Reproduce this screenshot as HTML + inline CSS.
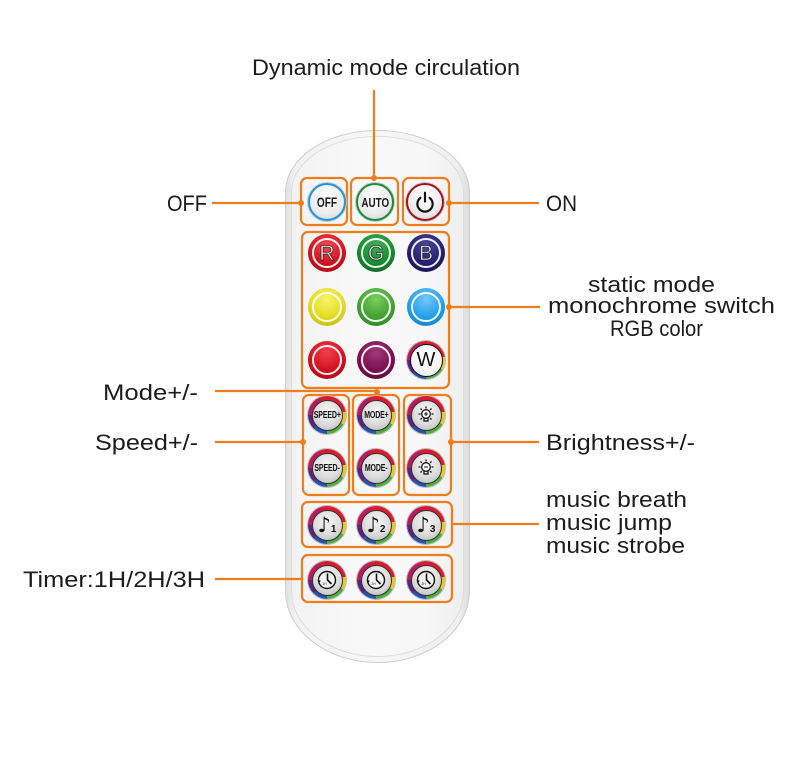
<!DOCTYPE html>
<html><head><meta charset="utf-8">
<style>
body{margin:0;background:#fff}
#c{position:relative;width:790px;height:762px;overflow:hidden;background:#fff;font-family:"Liberation Sans",sans-serif}
.rm{position:absolute;left:285px;top:130px;width:185px;height:533px;box-sizing:border-box;border:1.5px solid #cdcdcd;border-radius:92px 92px 92px 92px/62px 62px 72px 72px;background:linear-gradient(90deg,#e2e2e2 0%,#f2f2f2 5%,#f7f7f7 50%,#f0f0f0 94%,#dcdcdc 100%)}
.rm2{position:absolute;left:5px;top:5px;right:5px;bottom:5px;border:1px solid #dddddd;border-radius:86px 86px 86px 86px/56px 56px 66px 66px;background:linear-gradient(90deg,#f3f3f3 0%,#f8f8f8 40%,#f7f7f7 80%,#eeeeee 100%)}
svg.ov{position:absolute;left:0;top:0}
.b{position:absolute;width:38px;height:38px;margin:-19px 0 0 -19px;border-radius:50%;box-sizing:border-box;display:flex;align-items:center;justify-content:center}
.t{background:radial-gradient(circle at 50% 35%,#ffffff 0%,#ececec 60%,#d2d2d2 100%);box-shadow:0 0 0 1px #c8c8c8}
.t span{display:inline-block;color:#1a1a1a;font-weight:bold}
.c::before{content:"";position:absolute;left:4px;top:4px;right:4px;bottom:4px;border-radius:50%;border:2.5px solid rgba(255,255,255,.92)}
.c span{position:relative;font-size:21px;color:#fff;-webkit-text-stroke:1px rgba(0,0,0,.6);line-height:1}
.f{background:conic-gradient(from -20deg,#d81c2c 0deg 100deg,#e6c81e 100deg 140deg,#4cae3a 140deg 200deg,#2a4fb0 200deg 245deg,#5a237e 245deg 290deg,#b81a5a 290deg 360deg);box-shadow:0 0 0 1px #bbb}
.f .in{position:absolute;left:3.5px;top:3.5px;right:3.5px;bottom:3.5px;border-radius:50%;border:1.2px solid #333;background:radial-gradient(circle at 50% 35%,#f6f6f6 0%,#dcdcdc 55%,#b4b4b4 100%);display:flex;align-items:center;justify-content:center;overflow:hidden}
.f .in span.tx{display:inline-block;font-size:10px;font-weight:bold;color:#111;transform:scaleX(.7);white-space:nowrap;letter-spacing:-.2px}
.note{font-family:"DejaVu Sans",sans-serif;font-size:21px;font-weight:bold;color:#111;line-height:1}
.num{font-size:10px;font-weight:bold;color:#111;margin-top:9px}
</style></head>
<body>
<div id="c">
  <div class="rm"><div class="rm2"></div></div>

  <svg class="ov" width="790" height="762" viewBox="0 0 790 762">
    <g fill="none" stroke="#ef7d1c" stroke-width="2.2">
      <rect x="301" y="178" width="46" height="47" rx="6"/>
      <rect x="351" y="178" width="47" height="47" rx="6"/>
      <rect x="403" y="178" width="46" height="47" rx="6"/>
      <rect x="302" y="232" width="147" height="156" rx="6"/>
      <rect x="303" y="395" width="46" height="100" rx="6"/>
      <rect x="353" y="395" width="46" height="100" rx="6"/>
      <rect x="404" y="395" width="47" height="100" rx="6"/>
      <rect x="302" y="502" width="150" height="45" rx="6"/>
      <rect x="302" y="555" width="150" height="47" rx="6"/>
      <line x1="374" y1="90" x2="374" y2="178"/>
      <line x1="212" y1="203" x2="301" y2="203"/>
      <line x1="449" y1="203" x2="539" y2="203"/>
      <line x1="449" y1="307" x2="540" y2="307"/>
      <line x1="215" y1="391" x2="377" y2="391"/>
      <line x1="215" y1="442" x2="303" y2="442"/>
      <line x1="451" y1="442" x2="539" y2="442"/>
      <line x1="452" y1="524" x2="539" y2="524"/>
      <line x1="215" y1="579" x2="302" y2="579"/>
    </g>
    <g fill="#ef7d1c">
      <circle cx="374" cy="178" r="3"/>
      <circle cx="301" cy="203" r="3"/>
      <circle cx="449" cy="203" r="3"/>
      <circle cx="449" cy="307" r="3"/>
      <circle cx="377" cy="392" r="3"/>
      <circle cx="303" cy="442" r="3"/>
      <circle cx="451" cy="442" r="3"/>
    </g>
    <g font-family="Liberation Sans, sans-serif" font-size="22" fill="#1c1c1c">
      <text x="252" y="75" textLength="268" lengthAdjust="spacingAndGlyphs">Dynamic mode circulation</text>
      <text x="167" y="211" textLength="40" lengthAdjust="spacingAndGlyphs">OFF</text>
      <text x="546" y="211" textLength="31" lengthAdjust="spacingAndGlyphs">ON</text>
      <text x="588" y="292" textLength="127" lengthAdjust="spacingAndGlyphs">static mode</text>
      <text x="548" y="313" textLength="227" lengthAdjust="spacingAndGlyphs">monochrome switch</text>
      <text x="610" y="336" textLength="93" lengthAdjust="spacingAndGlyphs">RGB color</text>
      <text x="103" y="400" textLength="95" lengthAdjust="spacingAndGlyphs">Mode+/-</text>
      <text x="95" y="450" textLength="103" lengthAdjust="spacingAndGlyphs">Speed+/-</text>
      <text x="546" y="450" textLength="149" lengthAdjust="spacingAndGlyphs">Brightness+/-</text>
      <text x="546" y="507" textLength="141" lengthAdjust="spacingAndGlyphs">music breath</text>
      <text x="546" y="530" textLength="126" lengthAdjust="spacingAndGlyphs">music jump</text>
      <text x="546" y="553" textLength="139" lengthAdjust="spacingAndGlyphs">music strobe</text>
      <text x="23" y="587" textLength="182" lengthAdjust="spacingAndGlyphs">Timer:1H/2H/3H</text>
    </g>
  </svg>

  <!-- top row -->
  <div class="b t" style="left:327px;top:202px;border:2.2px solid #1e96dc"><span style="font-size:14px;transform:scaleX(.72)">OFF</span></div>
  <div class="b t" style="left:375px;top:202px;border:2.2px solid #1e8a3c"><span style="font-size:13px;transform:scaleX(.76)">AUTO</span></div>
  <div class="b t" style="left:425px;top:202px;border:2.2px solid #a0141e">
    <svg width="24" height="24" viewBox="0 0 22 22"><path d="M6.8 7.2a7 7 0 1 0 8.4 0" fill="none" stroke="#111" stroke-width="2" stroke-linecap="round"/><path d="M11 2.5v8" stroke="#111" stroke-width="2" stroke-linecap="round"/></svg>
  </div>

  <!-- color grid -->
  <div class="b c" style="left:327px;top:253px;background:radial-gradient(circle at 50% 30%,#f04a50 0%,#d0141e 55%,#9a0c14 100%)"><span>R</span></div>
  <div class="b c" style="left:376px;top:253px;background:radial-gradient(circle at 50% 30%,#40b058 0%,#178a30 55%,#0c5e1e 100%)"><span>G</span></div>
  <div class="b c" style="left:426px;top:253px;background:radial-gradient(circle at 50% 30%,#4a48a0 0%,#25206e 55%,#140f48 100%)"><span>B</span></div>

  <div class="b c" style="left:327px;top:307px;background:radial-gradient(circle at 50% 30%,#faf46a 0%,#e2dc20 55%,#b8b010 100%)"></div>
  <div class="b c" style="left:376px;top:307px;background:radial-gradient(circle at 50% 30%,#7acc5a 0%,#42a232 55%,#2a7a20 100%)"></div>
  <div class="b c" style="left:426px;top:307px;background:radial-gradient(circle at 50% 30%,#70c8f8 0%,#22a0ea 55%,#1070b8 100%)"></div>

  <div class="b c" style="left:327px;top:360px;background:radial-gradient(circle at 50% 30%,#f0404a 0%,#d41020 55%,#a00a14 100%)"></div>
  <div class="b c" style="left:376px;top:360px;background:radial-gradient(circle at 50% 30%,#a03a78 0%,#7a1050 55%,#520836 100%)"></div>
  <div class="b f" style="left:426px;top:360px"><div class="in" style="left:2.5px;top:2.5px;right:2.5px;bottom:2.5px;border:1.5px solid #111;background:radial-gradient(circle at 50% 35%,#ffffff 0%,#f2f2f2 70%,#dcdcdc 100%)"><span style="font-size:20px;color:#111;line-height:1">W</span></div></div>

  <!-- speed / mode / brightness -->
  <div class="b f" style="left:327px;top:415px"><div class="in"><span class="tx">SPEED+</span></div></div>
  <div class="b f" style="left:327px;top:468px"><div class="in"><span class="tx">SPEED-</span></div></div>
  <div class="b f" style="left:376px;top:415px"><div class="in"><span class="tx">MODE+</span></div></div>
  <div class="b f" style="left:376px;top:468px"><div class="in"><span class="tx">MODE-</span></div></div>
  <div class="b f" style="left:426px;top:415px"><div class="in">
    <svg width="22" height="22" viewBox="0 0 22 22"><circle cx="11" cy="10" r="4.3" fill="#fff" stroke="#111" stroke-width="1.3"/><path d="M9 14.2v2.8h4v-2.8" fill="none" stroke="#111" stroke-width="1.3"/><path d="M11 2.5v2M3.5 10h2M16.5 10h2M5.5 4.5l1.4 1.4M16.5 4.5l-1.4 1.4M5.5 15.5l1.4-1.4M16.5 15.5l-1.4-1.4" stroke="#111" stroke-width="1.3"/><path d="M9 10h4M11 8v4" stroke="#111" stroke-width="1"/></svg>
  </div></div>
  <div class="b f" style="left:426px;top:468px"><div class="in">
    <svg width="22" height="22" viewBox="0 0 22 22"><circle cx="11" cy="10" r="4.3" fill="#fff" stroke="#111" stroke-width="1.3"/><path d="M9 14.2v2.8h4v-2.8" fill="none" stroke="#111" stroke-width="1.3"/><path d="M11 2.5v2M3.5 10h2M16.5 10h2M5.5 4.5l1.4 1.4M16.5 4.5l-1.4 1.4M5.5 15.5l1.4-1.4M16.5 15.5l-1.4-1.4" stroke="#111" stroke-width="1.3"/><path d="M9 10h4" stroke="#111" stroke-width="1"/></svg>
  </div></div>

  <!-- music -->
  <div class="b f" style="left:327px;top:525px"><div class="in"><span class="note">♪</span><span class="num">1</span></div></div>
  <div class="b f" style="left:376px;top:525px"><div class="in"><span class="note">♪</span><span class="num">2</span></div></div>
  <div class="b f" style="left:426px;top:525px"><div class="in"><span class="note">♪</span><span class="num">3</span></div></div>

  <!-- timer -->
  <div class="b f" style="left:327px;top:580px"><div class="in">
    <svg width="24" height="24" viewBox="0 0 24 24"><circle cx="12" cy="12" r="8.5" fill="#f2f2f2" stroke="#111" stroke-width="1.4"/><path d="M12.5 5.5v6.5l4 4" stroke="#111" stroke-width="1.6" fill="none"/><path d="M2.5 12.5l1.5 3 1.8-3z" fill="#111"/><text x="7.5" y="17" font-size="3.2" font-family="Liberation Sans" fill="#111">1H</text></svg>
  </div></div>
  <div class="b f" style="left:376px;top:580px"><div class="in">
    <svg width="24" height="24" viewBox="0 0 24 24"><circle cx="12" cy="12" r="8.5" fill="#f2f2f2" stroke="#111" stroke-width="1.4"/><path d="M12.5 5.5v6.5l4 4" stroke="#111" stroke-width="1.6" fill="none"/><path d="M2.5 12.5l1.5 3 1.8-3z" fill="#111"/><text x="7.5" y="17" font-size="3.2" font-family="Liberation Sans" fill="#111">2H</text></svg>
  </div></div>
  <div class="b f" style="left:426px;top:580px"><div class="in">
    <svg width="24" height="24" viewBox="0 0 24 24"><circle cx="12" cy="12" r="8.5" fill="#f2f2f2" stroke="#111" stroke-width="1.4"/><path d="M12.5 5.5v6.5l4 4" stroke="#111" stroke-width="1.6" fill="none"/><path d="M2.5 12.5l1.5 3 1.8-3z" fill="#111"/><text x="7.5" y="17" font-size="3.2" font-family="Liberation Sans" fill="#111">3H</text></svg>
  </div></div>
</div>
</body></html>
